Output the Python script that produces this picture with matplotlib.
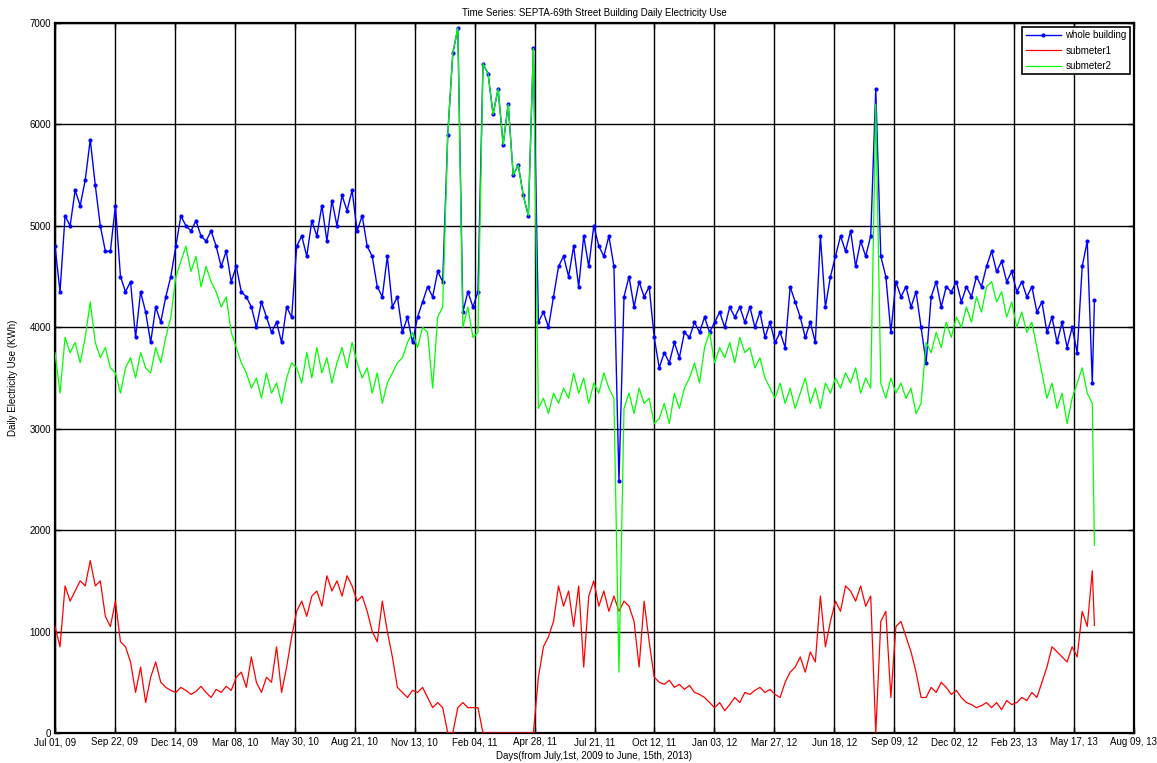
import matplotlib
matplotlib.use('Agg')
import matplotlib.pyplot as plt
import numpy as np

# day offsets from Jul 01, 2009 (sampled weekly, last point = Jun 15, 2013)
days = list(range(0, 1443, 7)) + [1445]

whole_building = [
    4800, 4350, 5100, 5000, 5350, 5200, 5450, 5850, 5400, 5000, 4750, 4750,
    5200, 4500, 4350, 4450, 3900, 4350, 4150, 3850, 4200, 4050, 4300, 4500,
    4800, 5100, 5000, 4950, 5050, 4900, 4850, 4950, 4800, 4600, 4750, 4450,
    4600, 4350, 4300, 4200, 4000, 4250, 4100, 3950, 4050, 3850, 4200, 4100,
    4800, 4900, 4700, 5050, 4900, 5200, 4850, 5250, 5000, 5300, 5150, 5350,
    4950, 5100, 4800, 4700, 4400, 4300, 4700, 4200, 4300, 3950, 4100, 3850,
    4100, 4250, 4400, 4300, 4550, 4450, 5900, 6700, 6950, 4150, 4350, 4200,
    4350, 6600, 6500, 6100, 6350, 5800, 6200, 5500, 5600, 5300, 5100, 6750,
    4050, 4150, 4000, 4300, 4600, 4700, 4500, 4800, 4400, 4900, 4600, 5000,
    4800, 4700, 4900, 4600, 2480, 4300, 4500, 4200, 4450, 4300, 4400, 3900,
    3600, 3750, 3650, 3850, 3700, 3950, 3900, 4050, 3950, 4100, 3950,
    4050, 4150, 4000, 4200, 4100, 4200, 4050, 4200, 4000, 4150, 3900, 4050,
    3850, 3950, 3800, 4400, 4250, 4100, 3900, 4050, 3850, 4900, 4200, 4500,
    4700, 4900, 4750, 4950, 4600, 4850, 4700, 4900, 6350, 4700, 4500, 3950,
    4450, 4300, 4400, 4200, 4350, 4000, 3650, 4300, 4450, 4200, 4400, 4350,
    4450, 4250, 4400, 4300, 4500, 4400, 4600, 4750, 4550, 4650, 4450, 4550,
    4350, 4450, 4300, 4400, 4150, 4250, 3950, 4100, 3850, 4050, 3800, 4000,
    3750, 4600, 4850, 3450, 4270,
]

submeter1 = [
    1050, 850, 1450, 1300, 1400, 1500, 1450, 1700, 1450, 1500, 1150, 1050,
    1300, 900, 850, 700, 400, 650, 300, 550, 700, 500, 450, 420,
    400, 450, 420, 380, 410, 460, 400, 350, 430, 400, 460, 420,
    550, 600, 450, 750, 500, 400, 550, 500, 850, 400, 650, 950,
    1200, 1300, 1150, 1350, 1400, 1250, 1550, 1400, 1500, 1350, 1550, 1450,
    1300, 1350, 1200, 1000, 900, 1300, 1000, 750, 450, 400, 350, 420,
    400, 450, 350, 250, 300, 250, 0, 0, 250, 300, 250, 250,
    250, 0, 0, 0, 0, 0, 0, 0, 0, 0, 0, 0,
    550, 850, 950, 1100, 1450, 1250, 1400, 1050, 1450, 650, 1350, 1500,
    1250, 1400, 1200, 1350, 1200, 1300, 1250, 1100, 650, 1300, 900, 550,
    500, 480, 520, 450, 480, 430, 470, 400, 380, 350, 300,
    250, 300, 220, 280, 350, 300, 400, 380, 420, 450, 400, 430,
    380, 350, 500, 600, 650, 750, 600, 800, 700, 1350, 850, 1100,
    1300, 1200, 1450, 1400, 1300, 1450, 1250, 1350, 0, 1100, 1200, 350,
    1050, 1100, 950, 800, 600, 350, 350, 450, 400, 500, 450, 380,
    420, 350, 300, 280, 250, 270, 300, 250, 300, 230, 320, 280,
    300, 350, 320, 400, 350, 500, 650, 850, 800, 750, 700, 850,
    750, 1200, 1050, 1600, 1060,
]

submeter2 = [
    3750, 3350, 3900, 3750, 3850, 3650, 3900, 4250, 3850, 3700, 3800, 3600,
    3550, 3350, 3600, 3700, 3500, 3750, 3600, 3550, 3800, 3650, 3900, 4100,
    4500, 4650, 4800, 4550, 4700, 4400, 4600, 4450, 4350, 4200, 4300, 3950,
    3800, 3650, 3550, 3400, 3500, 3300, 3550, 3350, 3450, 3250, 3500, 3650,
    3600, 3450, 3750, 3500, 3800, 3550, 3700, 3450, 3650, 3800, 3600, 3850,
    3650, 3500, 3600, 3350, 3550, 3250, 3450, 3550, 3650, 3700, 3850, 3950,
    3800, 4000, 3950, 3400, 4100, 4200, 5900, 6700, 6950, 4000, 4200, 3900,
    3950, 6600, 6500, 6100, 6350, 5800, 6200, 5500, 5600, 5300, 5100, 6750,
    3200, 3300, 3150, 3350, 3250, 3400, 3300, 3550, 3350, 3500, 3250, 3450,
    3350, 3550, 3400, 3300, 600, 3200, 3350, 3150, 3400, 3250, 3300, 3050,
    3100, 3250, 3050, 3350, 3200, 3400, 3500, 3650, 3450, 3800, 3950,
    3650, 3800, 3700, 3850, 3650, 3900, 3750, 3800, 3600, 3700, 3500, 3400,
    3300, 3450, 3250, 3400, 3200, 3350, 3500, 3250, 3400, 3200, 3450, 3350,
    3500, 3400, 3550, 3450, 3600, 3350, 3500, 3400, 6200, 3450, 3300, 3500,
    3350, 3450, 3300, 3400, 3150, 3250, 3850, 3750, 3950, 3800, 4050, 3900,
    4100, 4000, 4200, 4050, 4300, 4150, 4400, 4450, 4250, 4350, 4100, 4250,
    4000, 4150, 3950, 4050, 3800, 3550, 3300, 3450, 3200, 3350, 3050, 3300,
    3450, 3600, 3350, 3250, 1850,
]

tick_labels = ['Jul 01, 09', 'Sep 22, 09', 'Dec 14, 09', 'Mar 08, 10', 'May 30, 10',
               'Aug 21, 10', 'Nov 13, 10', 'Feb 04, 11', 'Apr 28, 11', 'Jul 21, 11',
               'Oct 12, 11', 'Jan 03, 12', 'Mar 27, 12', 'Jun 18, 12', 'Sep 09, 12',
               'Dec 02, 12', 'Feb 23, 13', 'May 17, 13', 'Aug 09, 13']

plt.rcParams['font.family'] = ['Liberation Sans', 'DejaVu Sans']

fig = plt.figure(figsize=(11.57, 7.63), dpi=100)
ax = fig.add_axes([55 / 1157, 30 / 763, 1079 / 1157, 710 / 763])

ax.plot(days, whole_building, color='#0000ff', lw=1, marker='.', ms=4,
        label='whole building', zorder=3)
ax.plot(days, submeter1, color='#ff0000', lw=0.9, label='submeter1', zorder=3)
ax.plot(days, submeter2, color='#00ff00', lw=0.9, label='submeter2', zorder=4)

ax.set_xlim(0, 1500)
ax.set_ylim(0, 7000)
ax.set_xticks(np.linspace(0, 1500, len(tick_labels)))
ax.set_xticklabels(tick_labels)
ax.set_yticks(range(0, 7001, 1000))
ax.tick_params(labelsize=7, direction='in', length=4, width=1, top=True, right=True, pad=3)
ax.grid(True, color='black', lw=1, zorder=1)
for sp in ax.spines.values():
    sp.set_linewidth(1.6)

ax.set_title('Time Series: SEPTA-69th Street Building Daily Electricity Use',
             fontsize=7, pad=5)
ax.set_xlabel('Days(from July,1st, 2009 to June, 15th, 2013)', fontsize=7, labelpad=3)
ax.set_ylabel('Daily Electricity Use (KWh)', fontsize=7, labelpad=8)

leg = ax.legend(loc='upper right', fontsize=7, fancybox=False, framealpha=1,
                edgecolor='black', borderaxespad=0.4, handlelength=3.6,
                borderpad=0.35, labelspacing=0.55, handletextpad=0.5)
leg.get_frame().set_linewidth(1.2)

fig.savefig('out.png', dpi=100)
